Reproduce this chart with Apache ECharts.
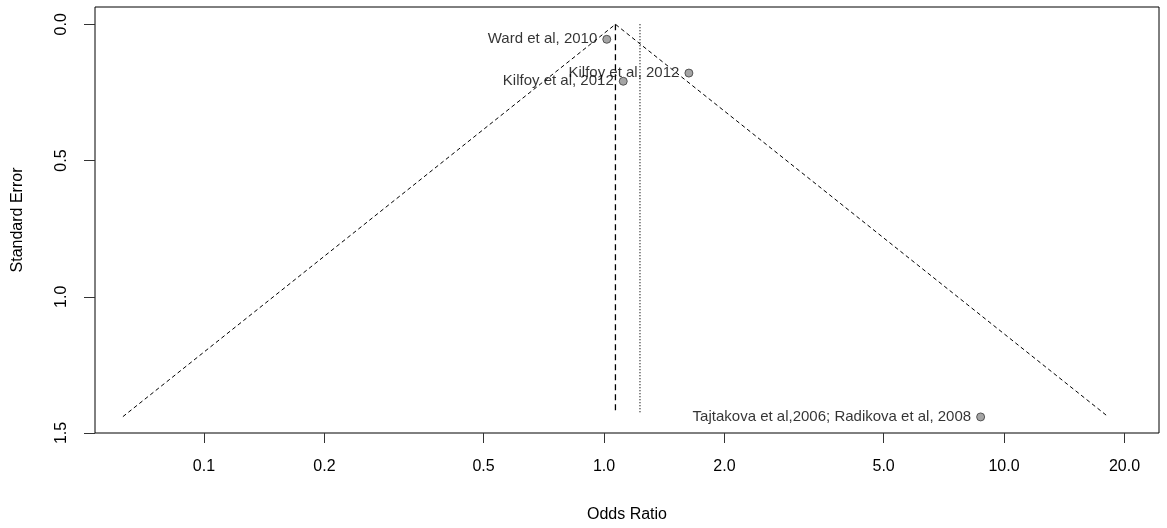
<!DOCTYPE html>
<html>
<head>
<meta charset="utf-8">
<script src="https://cdn.jsdelivr.net/npm/echarts@6/dist/echarts.min.js"></script>
<style>
html,body{margin:0;padding:0;background:#fff;}
#chart{width:1167px;height:528px;}
</style>
</head>
<body>
<div id="chart"></div>
<script>
// Study points (odds ratio, standard error)
const studyNames = ["Ward et al, 2010", "Kilfoy et al, 2012", "Kilfoy et al, 2012", "Tajtakova et al,2006; Radikova et al, 2008"];
const studyOR = [1.016, 1.117, 1.63, 8.74];
const studySE = [0.055, 0.209, 0.179, 1.441];

// Funnel (pseudo-confidence limits)
const funnelOR = [0.0627, 1.068, 18.2];
const funnelSE = [1.44, 0, 1.44];

// Reference lines: fixed effect (dashed) and random effects (dotted)
const fixedOR = 1.068;
const randomOR = 1.23;
const refLineSE = [0, 1.43];

// Axis ticks
const xTicks = [0.1, 0.2, 0.5, 1.0, 2.0, 5.0, 10.0, 20.0];
const yTicks = [0, 0.5, 1.0, 1.5];
const xRange = [0.0534, 24.4];
const yRange = [-0.0635, 1.5];

const L = v => Math.log10(v);
const font = "'Liberation Sans', Arial, sans-serif";

const chart = echarts.init(document.getElementById('chart'));
chart.setOption({
  animation: false,
  backgroundColor: '#fff',
  grid: {
    left: 95, right: 8, top: 7, bottom: 95,
    show: true, borderColor: '#000', borderWidth: 1, backgroundColor: 'transparent'
  },
  xAxis: {
    type: 'value',
    position: 'bottom',
    min: L(xRange[0]), max: L(xRange[1]),
    name: 'Odds Ratio',
    nameLocation: 'middle',
    nameGap: 74,
    nameTextStyle: { fontFamily: font, fontSize: 16, color: '#000' },
    axisLine: { show: false, onZero: false },
    splitLine: { show: false },
    axisTick: { show: true, length: 10, lineStyle: { color: '#333' }, customValues: xTicks.map(L) },
    axisLabel: {
      customValues: xTicks.map(L),
      margin: 26,
      fontFamily: font, fontSize: 16, color: '#000',
      formatter: v => Math.pow(10, v).toFixed(1)
    }
  },
  yAxis: {
    type: 'value',
    position: 'left',
    inverse: true,
    min: yRange[0], max: yRange[1],
    name: 'Standard Error',
    nameLocation: 'middle',
    nameGap: 69,
    nameTextStyle: { fontFamily: font, fontSize: 16, color: '#000' },
    axisLine: { show: false, onZero: false },
    splitLine: { show: false },
    axisTick: { show: true, length: 11, lineStyle: { color: '#333' }, customValues: yTicks },
    axisLabel: {
      customValues: yTicks,
      rotate: 90,
      margin: 25,
      fontFamily: font, fontSize: 16, color: '#000',
      formatter: v => v.toFixed(1)
    }
  },
  series: [
    {
      type: 'line',
      symbol: 'none',
      data: funnelOR.map((o, i) => [L(o), funnelSE[i]]),
      lineStyle: { color: '#000', width: 1, type: [4, 3] },
      silent: true
    },
    {
      type: 'line',
      symbol: 'none',
      data: refLineSE.map(s => [L(fixedOR), s]),
      lineStyle: { color: '#000', width: 1.3, type: [6, 4] },
      silent: true
    },
    {
      type: 'line',
      symbol: 'none',
      data: refLineSE.map(s => [L(randomOR), s]),
      lineStyle: { color: '#000', width: 1.2, type: [1, 2] },
      silent: true
    },
    {
      type: 'scatter',
      symbol: 'circle',
      symbolSize: 8,
      data: studyOR.map((o, i) => ({ name: studyNames[i], value: [L(o), studySE[i]] })),
      itemStyle: { color: '#8e8e8e', borderColor: '#3a3a3a', borderWidth: 1 },
      label: {
        show: true,
        position: 'left',
        distance: 5,
        formatter: p => p.name,
        fontFamily: font, fontSize: 15, color: '#000'
      },
      labelLayout: { hideOverlap: false },
      z: 5
    }
  ]
});
</script>
</body>
</html>
